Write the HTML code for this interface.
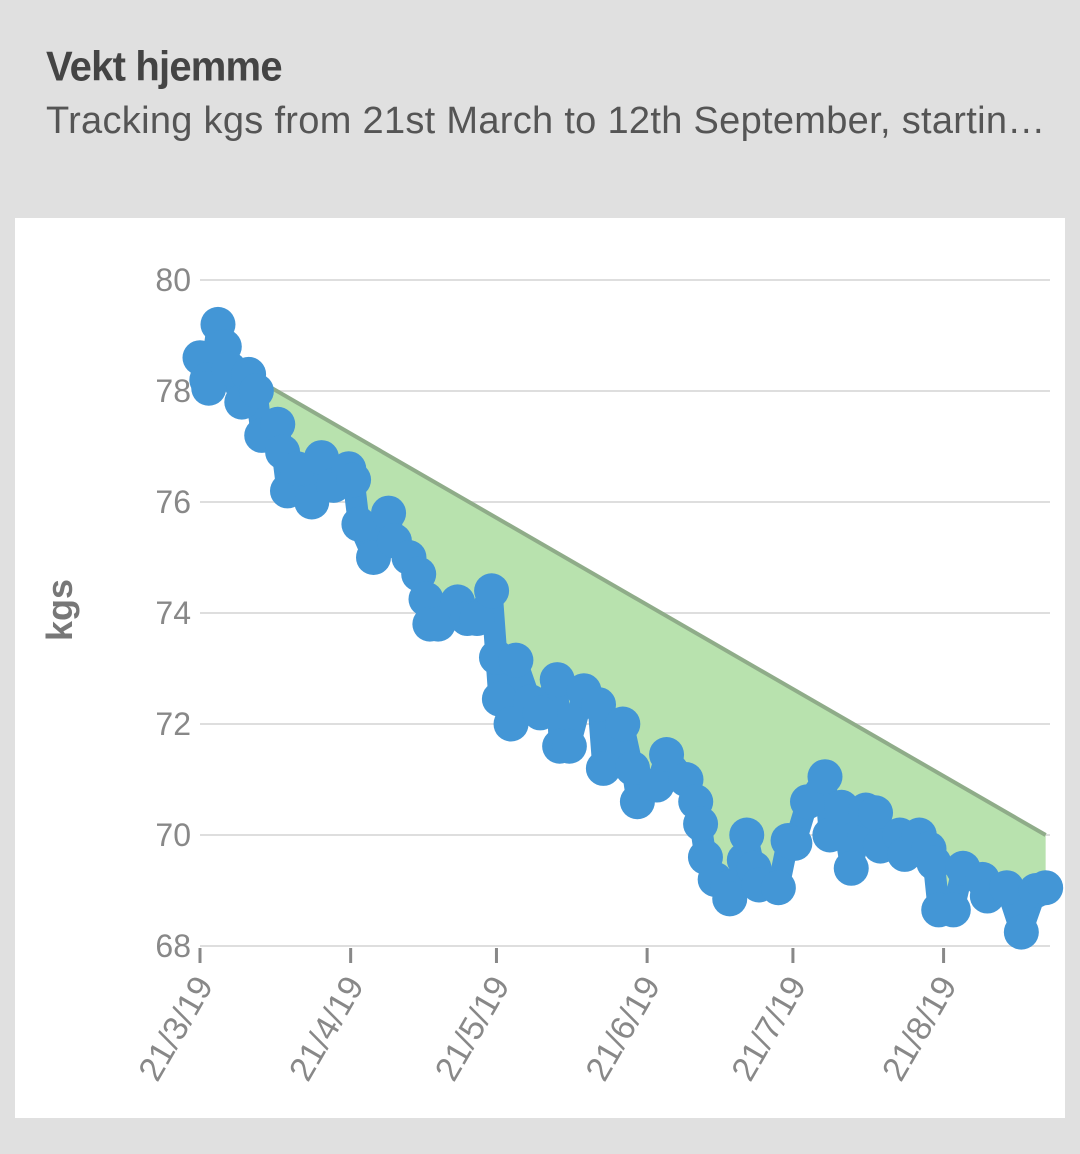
<!DOCTYPE html>
<html><head><meta charset="utf-8"><style>
body{margin:0;width:1080px;height:1154px;background:#e0e0e0;font-family:"Liberation Sans",sans-serif;overflow:hidden;position:relative}
.t{position:absolute;left:46px;top:45px;font-size:40px;font-weight:bold;color:#444;letter-spacing:-0.8px;transform:scaleY(1.05)}
.s{position:absolute;left:46px;top:100px;font-size:38px;color:#555;white-space:nowrap;letter-spacing:0.3px}
.card{position:absolute;left:15px;top:218px;width:1050px;height:900px;background:#fff}
svg{position:absolute;left:0;top:0}
</style></head><body>
<div class="t">Vekt hjemme</div>
<div class="s">Tracking kgs from 21st March to 12th September, startin…</div>
<div class="card"></div>
<svg id="c" width="1080" height="1154"></svg>
<script>
const yTicks=[68,70,72,74,76,78,80];
const xLabels=["21/3/19","21/4/19","21/5/19","21/6/19","21/7/19","21/8/19"];
const xTickDays=[0,31,61,92,122,153];
const goalStart=78.8, goalEnd=70.0, goalEndDay=174;
const days=[0,1.4,1.8,3.7,5,6,8.6,10,11.6,12.7,16,17,18,20,23,25,27.5,30.6,31.6,32.7,35.7,38.8,40,43,45,46.5,47.3,49,53,55,57,60,61,61.6,64,65,68,70,73.5,74,76,79,82,83,87,89,90,94,96,100,102,103,104,106,108.6,109,112,112.5,114,115,119,121,122.4,125,128.6,129.6,132,134,137,139,140,144,145,148,150,151,152,155,157,161,162,166,169,172,174];
const weights=[78.6,78.2,78.05,79.2,78.8,78.4,77.8,78.3,78.0,77.2,77.4,76.9,76.2,76.6,76.0,76.8,76.3,76.6,76.4,75.6,75.0,75.8,75.3,75.0,74.7,74.25,73.8,73.8,74.2,73.9,73.9,74.4,73.2,72.45,72.0,73.15,72.4,72.2,72.8,71.6,71.6,72.6,72.35,71.2,72.0,71.2,70.6,70.9,71.45,71.0,70.6,70.2,69.6,69.2,69.05,68.85,69.55,70.0,69.4,69.1,69.05,69.9,69.85,70.6,71.05,70.0,70.5,69.4,70.45,70.4,69.8,70.0,69.65,70.0,69.75,69.5,68.65,68.65,69.4,69.2,68.9,69.05,68.25,69.0,69.05];
const NS="http://www.w3.org/2000/svg",svg=document.getElementById('c');
const X=d=>200+d*4.86, Y=v=>280+(80-v)*55.5;
function mk(tag,a,txt){const e=document.createElementNS(NS,tag);for(const k in a)e.setAttribute(k,a[k]);if(txt!=null)e.textContent=txt;svg.appendChild(e);return e;}
yTicks.forEach(v=>{
  const g=mk('line',{x1:200,x2:1050,y1:Y(v),y2:Y(v),stroke:'#dedede','stroke-width':2});
  
  
  const t=mk('text',{x:191,y:Y(v)+11,'text-anchor':'end','font-size':32,fill:'#888'},v);
  
  
});
xTickDays.forEach((d,i)=>{
  const l=mk('line',{x1:X(d),x2:X(d),y1:948,y2:963,stroke:'#888','stroke-width':3});
  
  
  const t=mk('text',{x:0,y:0,'text-anchor':'end','font-size':34,fill:'#888',transform:`translate(${X(d)+14},985) rotate(-60)`},xLabels[i]);
  
  
});
const yt=mk('text',{x:0,y:0,'text-anchor':'middle','font-size':36,fill:'#777','font-weight':'bold',transform:'translate(72,610) rotate(-90)'},'kgs');


const gY=d=>Y(goalStart+(goalEnd-goalStart)*d/goalEndDay);
let pts=[[X(0),gY(0)],[X(goalEndDay),gY(goalEndDay)]];
for(let i=days.length-1;i>=0;i--){const d=Math.min(days[i],goalEndDay);pts.push([X(d),Math.max(Y(weights[i]),gY(d))]);}
const area=mk('polygon',{points:pts.map(p=>p.join(',')).join(' '),fill:'#b8e2ae'});


const gl=mk('line',{x1:X(0),y1:gY(0),x2:X(goalEndDay),y2:gY(goalEndDay),stroke:'#8fac89','stroke-width':4});


const pl=mk('polyline',{points:days.map((d,i)=>X(d)+','+Y(weights[i])).join(' '),fill:'none',stroke:'#4396d6','stroke-width':22,'stroke-linejoin':'round'});


days.forEach((d,i)=>{
  const c=mk('circle',{cx:X(d),cy:Y(weights[i]),r:17.5,fill:'#4396d6'});
  
  
});
</script>
</body></html>
